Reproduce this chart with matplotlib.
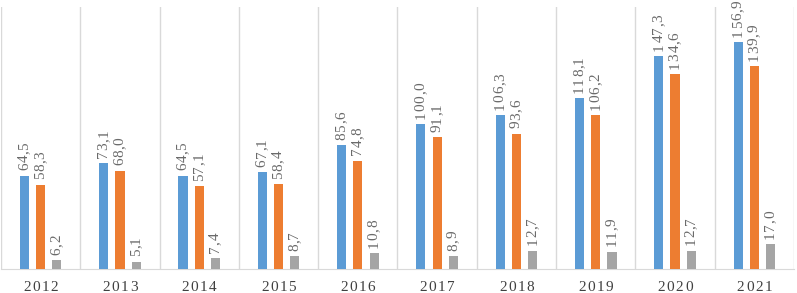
import matplotlib
matplotlib.use("Agg")
import matplotlib.pyplot as plt
import numpy as np

years = ["2012", "2013", "2014", "2015", "2016", "2017", "2018", "2019", "2020", "2021"]
series_a = [64.5, 73.1, 64.5, 67.1, 85.6, 100.0, 106.3, 118.1, 147.3, 156.9]
series_b = [58.3, 68.0, 57.1, 58.4, 74.8, 91.1, 93.6, 106.2, 134.6, 139.9]
series_c = [6.2, 5.1, 7.4, 8.7, 10.8, 8.9, 12.7, 11.9, 12.7, 17.0]

colors = ["#5B9BD5", "#ED7D31", "#A5A5A5"]
FONT = "Liberation Serif"

fig = plt.figure(figsize=(7.97, 2.93), dpi=100)
ax = fig.add_axes([1/797, 24/293, 793/797, 262/293])

x = np.arange(len(years))
w = 0.115
offs = [-0.205, 0.0, 0.205]
fs_val = 11
extra_val = 0.4  # extra letter spacing, points


def char_adv(ch, fs):
    return fs * (0.25 if ch in ",." else 0.5)


for s, c, o in zip([series_a, series_b, series_c], colors, offs):
    ax.bar(x + o, s, width=w, color=c, zorder=3)
    for xi, v in zip(x + o, s):
        lab = f"{v:.1f}".replace(".", ",")
        pos = 3.8
        for ch in lab:
            ax.annotate(ch, (xi, v), xytext=(0, pos), textcoords="offset points",
                        rotation=90, rotation_mode="anchor", ha="left", va="center",
                        fontsize=fs_val, family=FONT, color="#6a6a6a",
                        annotation_clip=False)
            pos += char_adv(ch, fs_val) + extra_val

ax.set_xlim(-0.5, len(years) - 0.5)
ax.set_ylim(0, 181)
ax.set_yticks([])
ax.set_xticks(x)
ax.set_xticklabels([])
ax.tick_params(axis="x", length=0)

fs_year = 11
extra_year = 1.1
for xi, y in zip(x, years):
    advs = [char_adv(ch, fs_year) + extra_year for ch in y]
    total = sum(advs) - extra_year
    pos = -total / 2
    for ch, a in zip(y, advs):
        ax.annotate(ch, (xi, 0), xycoords=("data", "axes fraction"),
                    xytext=(pos + char_adv(ch, fs_year) / 2, -15.5), textcoords="offset points",
                    ha="center", va="baseline", fontsize=fs_year, family=FONT,
                    color="#404040", annotation_clip=False)
        pos += a

for b in np.arange(-0.5, len(years) + 0.5, 1):
    ax.axvline(b, color="#D9D9D9", lw=1, zorder=1)
for sp in ["top", "right", "left"]:
    ax.spines[sp].set_visible(False)
ax.spines["bottom"].set_color("#D9D9D9")

fig.savefig("out.png", dpi=100)
